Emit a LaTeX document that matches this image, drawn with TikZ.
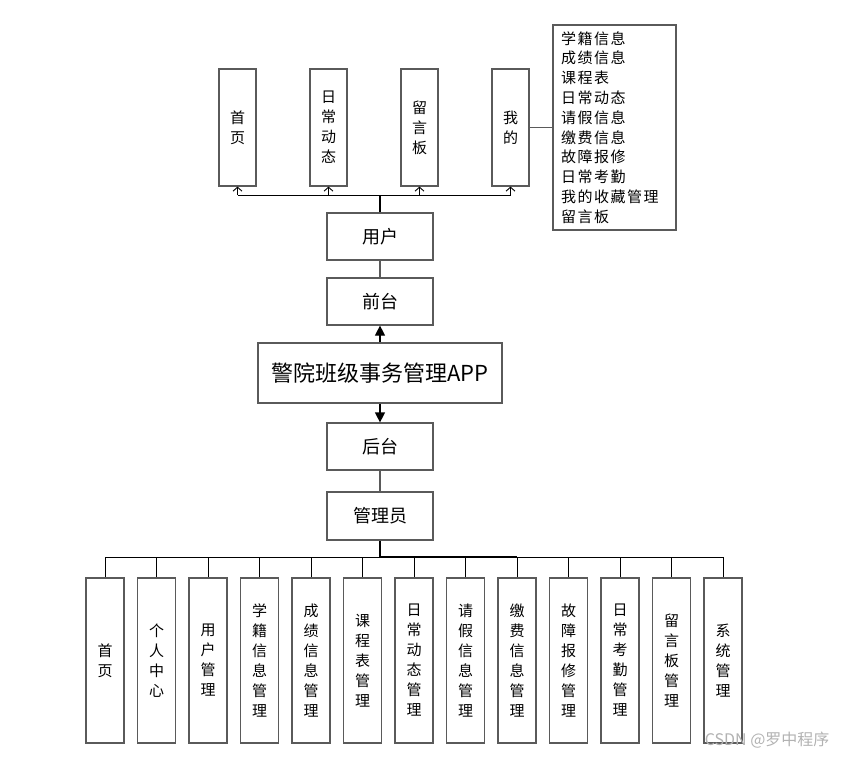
\documentclass[tikz,border=0pt]{standalone}
\usepackage{fontspec}
\setmainfont{Noto Sans CJK SC}
\usetikzlibrary{arrows.meta}
\definecolor{edge}{RGB}{90,90,90}

\begin{document}
\begin{tikzpicture}[x=1pt,y=-1pt,
    box/.style={draw=edge,line width=1.2pt,inner sep=0pt,align=center,font=\fontsize{15}{20}\selectfont},
    tall/.style={box,minimum width=37pt,minimum height=117pt},
    mid/.style={box,minimum width=106pt,minimum height=47pt,font=\fontsize{18}{22}\selectfont},
    low/.style={box,minimum width=38pt,minimum height=165pt}]
    \useasboundingbox (0,0) rectangle (848,757);
    % front end
    \node[tall] (home) at (237.5,127.5) {首\\页};
    \node[tall] (daily) at (328.5,127.5) {日\\常\\动\\态};
    \node[tall] (board) at (419.5,127.5) {留\\言\\板};
    \node[tall] (mine) at (510.5,127.5) {我\\的};
    \node[box,align=left,minimum height=205pt,text width=107pt,inner xsep=8pt,
      font=\fontsize{15}{19.8}\selectfont\addfontfeature{LetterSpace=10}] (list) at (614.5,127.5)
      {学籍信息\\成绩信息\\课程表\\日常动态\\请假信息\\缴费信息\\故障报修\\日常考勤\\我的收藏管理\\留言板};
    \node[mid] (user) at (380,236.5) {用户};
    \node[mid] (front) at (380,301.5) {前台};
    \node[box,minimum width=244pt,minimum height=60pt,font=\fontsize{22}{26}\selectfont] (app) at (380,373) {警院班级事务管理APP};
    \node[mid] (back) at (380,446.5) {后台};
    \node[mid,minimum height=48pt] (admin) at (380,516) {管理员};
    % back end
    \foreach \t [count=\i] in {{首\\页},{个\\人\\中\\心},{用\\户\\管\\理},{学\\籍\\信\\息\\管\\理},{成\\绩\\信\\息\\管\\理},
      {课\\程\\表\\管\\理},{日\\常\\动\\态\\管\\理},{请\\假\\信\\息\\管\\理},{缴\\费\\信\\息\\管\\理},{故\\障\\报\\修\\管\\理},
      {日\\常\\考\\勤\\管\\理},{留\\言\\板\\管\\理},{系\\统\\管\\理}}
      \node[low] (b\i) at ({105+51.5*(\i-1)},660.5) {\t};

    \coordinate (ujn) at (380,195);
    \coordinate (ajn) at (380,557);
    \draw[line width=1.6pt] (user.north) -- (ujn);
    \draw[line width=0.9pt] (home.south |- ujn) -- (mine.south |- ujn);
    \foreach \n in {home,daily,board,mine}
      \draw[line width=0.9pt,-{Straight Barb[length=4pt,width=9pt]}] (\n.south |- ujn) -- (\n.south);
    \draw[line width=1.2pt,edge] (mine.east) -- (list.west);
    \draw[line width=1.2pt,edge] (user.south) -- (front.north);
    \draw[line width=1.2pt,-{Triangle[length=10pt,width=10pt]}] (app.north) -- (front.south);
    \draw[line width=1.2pt,-{Triangle[length=10pt,width=10pt]}] (app.south) -- (back.north);
    \draw[line width=1.2pt,edge] (back.south) -- (admin.north);
    \draw[line width=1.6pt] (admin.south) -- (ajn);
    \draw[line width=0.9pt] (b1.north |- ajn) -- (b13.north |- ajn);
    \draw[line width=1.6pt] (ajn) -- (b9.north |- ajn);
    \foreach \i in {1,...,13}
      \draw[line width=0.9pt] (b\i.north |- ajn) -- (b\i.north);

    \node[text=black!30,anchor=east,font=\fontsize{16}{16}\selectfont] (wm) at (833,740) {CSDN @罗中程序};
\end{tikzpicture}
\end{document}
